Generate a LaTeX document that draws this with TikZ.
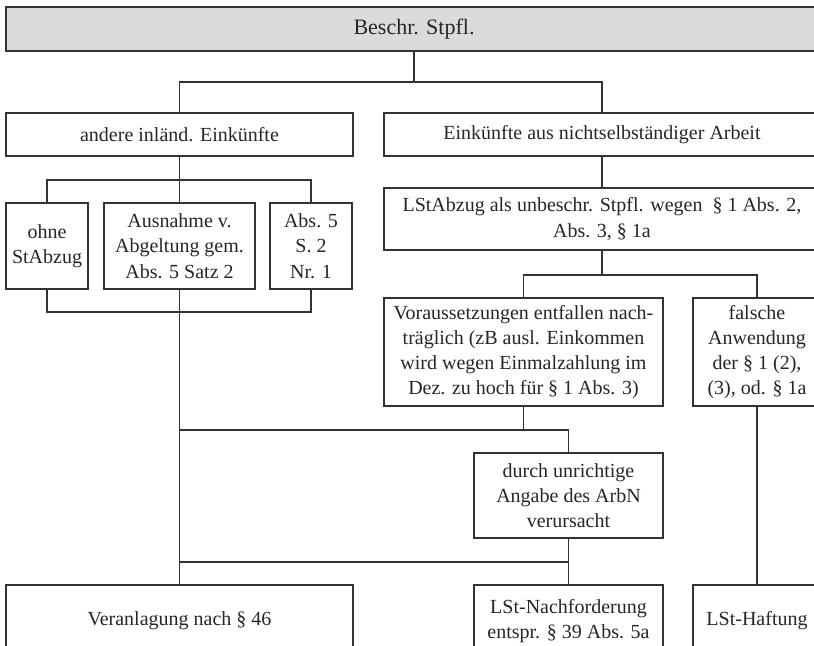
\documentclass[tikz,border=0pt]{standalone}
\usepackage{amsmath,amssymb}
\usepackage{fontspec}
\setmainfont{Liberation Serif}
\usepackage[]{xcolor}
\usepackage[]{tikz}

\begin{document}
\begin{tikzpicture}[x=0.5pt, y=-0.5pt,
    box/.style={draw=black!80, line width=0.6pt, align=center, inner sep=0pt,
      font=\fontsize{10}{12.6}\selectfont, text=black!85},
    sz/.style 2 args={minimum width=#1*0.5pt, minimum height=#2*0.5pt},
    link/.style={draw=black!80, line width=0.6pt}]
        \useasboundingbox (0, 0) rectangle (814, 645);

        \node[box, fill=black!14, sz={816}{44}, font=\fontsize{11}{13}\selectfont] (stpfl) at (414, 29) {Beschr. Stpfl.};
        \node[box, sz={347}{43}] (andere) at (179.5, 134.5) {andere inländ. Einkünfte};
        \node[box, sz={436}{43}] (arbeit) at (602, 134.5) {Einkünfte aus nichtselbständiger Arbeit};

        \node[box, sz={82}{86}] (ohne) at (47, 246) {ohne\\StAbzug};
        \node[box, sz={151}{86}] (ausnahme) at (179.5, 246) {Ausnahme v.\\Abgeltung gem.\\Abs. 5 Satz 2};
        \node[box, sz={82}{86}] (nreins) at (311, 246) {Abs. 5\\S. 2\\Nr. 1};

        \node[box, sz={436}{62}] (lstabzug) at (602, 219) {LStAbzug als unbeschr. Stpfl. wegen \ §~1 Abs. 2,\\Abs. 3, §~1a};
        \node[box, sz={279}{108}] (voraus) at (523.5, 352) {Voraussetzungen entfallen nach-\\träglich (zB ausl. Einkommen\\wird wegen Einmalzahlung im\\Dez. zu hoch für §~1 Abs. 3)};
        \node[box, sz={128}{108}] (falsch) at (757, 352) {falsche\\Anwendung\\der §~1 (2),\\(3), od. §~1a};
        \node[box, sz={189}{85}] (durch) at (568.5, 495.5) {durch unrichtige\\Angabe des ArbN\\verursacht};

        \node[box, sz={347}{72}] (veranl) at (179.5, 621) {Veranlagung nach §~46};
        \node[box, sz={189}{72}] (nachford) at (568.5, 621) {LSt-Nachforderung\\entspr. §~39 Abs. 5a};
        \node[box, sz={128}{72}] (haftung) at (757, 621) {LSt-Haftung};

        \coordinate (split1) at (414, 82);
        \coordinate (split2) at (179.5, 180);
        \coordinate (split3) at (602, 275);
        \coordinate (merge1) at (179.5, 312);
        \coordinate (merge2) at (179.5, 430);
        \coordinate (merge3) at (179.5, 562);

        \draw[link] (stpfl.south) -- (split1);
        \draw[link] (split1) -| (andere.north);
        \draw[link] (split1) -| (arbeit.north);

        \draw[link] (andere.south) -- (split2);
        \draw[link] (split2) -| (ohne.north);
        \draw[link] (split2) -| (nreins.north);
        \draw[link] (split2) -- (ausnahme.north);
        \draw[link] (ohne.south) |- (merge1);
        \draw[link] (nreins.south) |- (merge1);
        \draw[link] (ausnahme.south) -- (merge1);
        \draw[link] (merge1) -- (veranl.north);

        \draw[link] (arbeit.south) -- (lstabzug.north);
        \draw[link] (lstabzug.south) -- (split3);
        \draw[link] (split3) -| (voraus.north);
        \draw[link] (split3) -| (falsch.north);
        \draw[link] (falsch.south) -- (haftung.north);

        \draw[link] (voraus.south) |- (merge2);
        \draw[link] (durch.north) |- (merge2);
        \draw[link] (durch.south) |- (merge3);
        \draw[link] (durch.south) -- (nachford.north);
      \end{tikzpicture}
\end{document}
